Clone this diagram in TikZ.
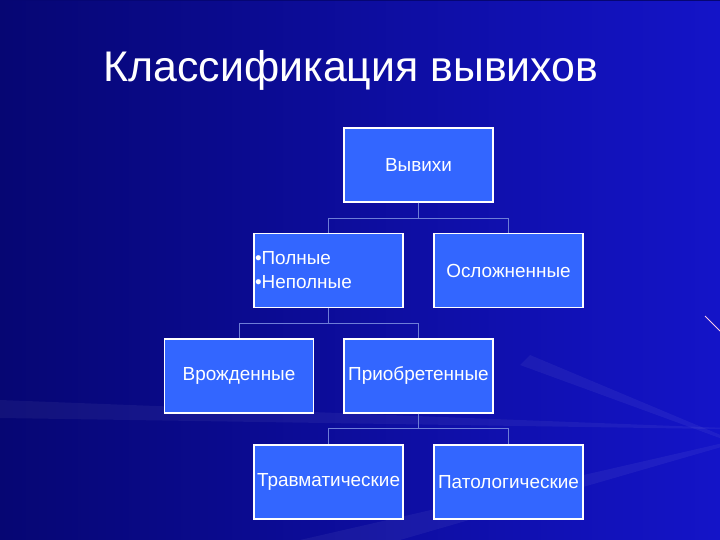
\documentclass[tikz,border=0pt]{standalone}
\usepackage{fontspec}
\setmainfont{Liberation Sans}
\definecolor{bgdark}{RGB}{6,6,115}
\definecolor{bgmid}{RGB}{10,10,155}
\definecolor{bglight}{RGB}{20,20,200}
\definecolor{boxblue}{RGB}{51,102,255}
\definecolor{linkblue}{RGB}{110,125,215}
\tikzset{
  klass/.style = {rectangle, fill=boxblue, draw=white, line width=1.1bp, minimum width=149bp, minimum height=74bp, inner sep=1bp, text=white, font=\fontsize{19}{23}\selectfont},
  link/.style = {draw=linkblue, line width=0.7bp},
  ray/.style = {fill=white, opacity=0.05}
}
\begin{document}
\begin{tikzpicture}[x=1bp, y=-1bp]
\useasboundingbox (0,0) rectangle (720,540);
\clip (0,0) rectangle (720,540);
\draw [left color = bgdark , middle color = bgmid, right color=bglight, thin, bgdark] (0,0) rectangle (720,540);

% faint rays
\fill[ray] (780,430) -- (0,400) -- (0,418) -- cycle;
\fill[ray] (780,430) -- (300,540) -- (400,540) -- cycle;
\fill[ray] (780,460) -- (520,365) -- (530,355) -- cycle;
\draw[white!80!magenta, line width=0.8bp] (705,316) -- (720,331);

\node[text=white, font=\fontsize{43}{50}\selectfont, anchor=base] (title) at (351,82) {Классификация вывихов};

\node[klass] (vyvikhi) at (418.5,165) {Вывихи};
\node[klass, align=left, text width=147bp] (polnye) at (328.5,270.5) {•Полные\\[1bp]•Неполные};
\node[klass] (oslozh) at (508.5,270.5) {Осложненные};
\node[klass] (vrozh) at (239,376) {Врожденные};
\node[klass] (priobr) at (418.5,376) {Приобретенные};
\node[klass] (travm) at (328.5,482) {Травматические};
\node[klass] (patol) at (508.5,482) {Патологические};

\draw[link] (vyvikhi.south) -- ++(0,16) -| (polnye.north);
\draw[link] (vyvikhi.south) -- ++(0,16) -| (oslozh.north);
\draw[link] (polnye.south) -- ++(0,15) -| (vrozh.north);
\draw[link] (polnye.south) -- ++(0,15) -| (priobr.north);
\draw[link] (priobr.south) -- ++(0,15) -| (travm.north);
\draw[link] (priobr.south) -- ++(0,15) -| (patol.north);
\end{tikzpicture}
\end{document}
